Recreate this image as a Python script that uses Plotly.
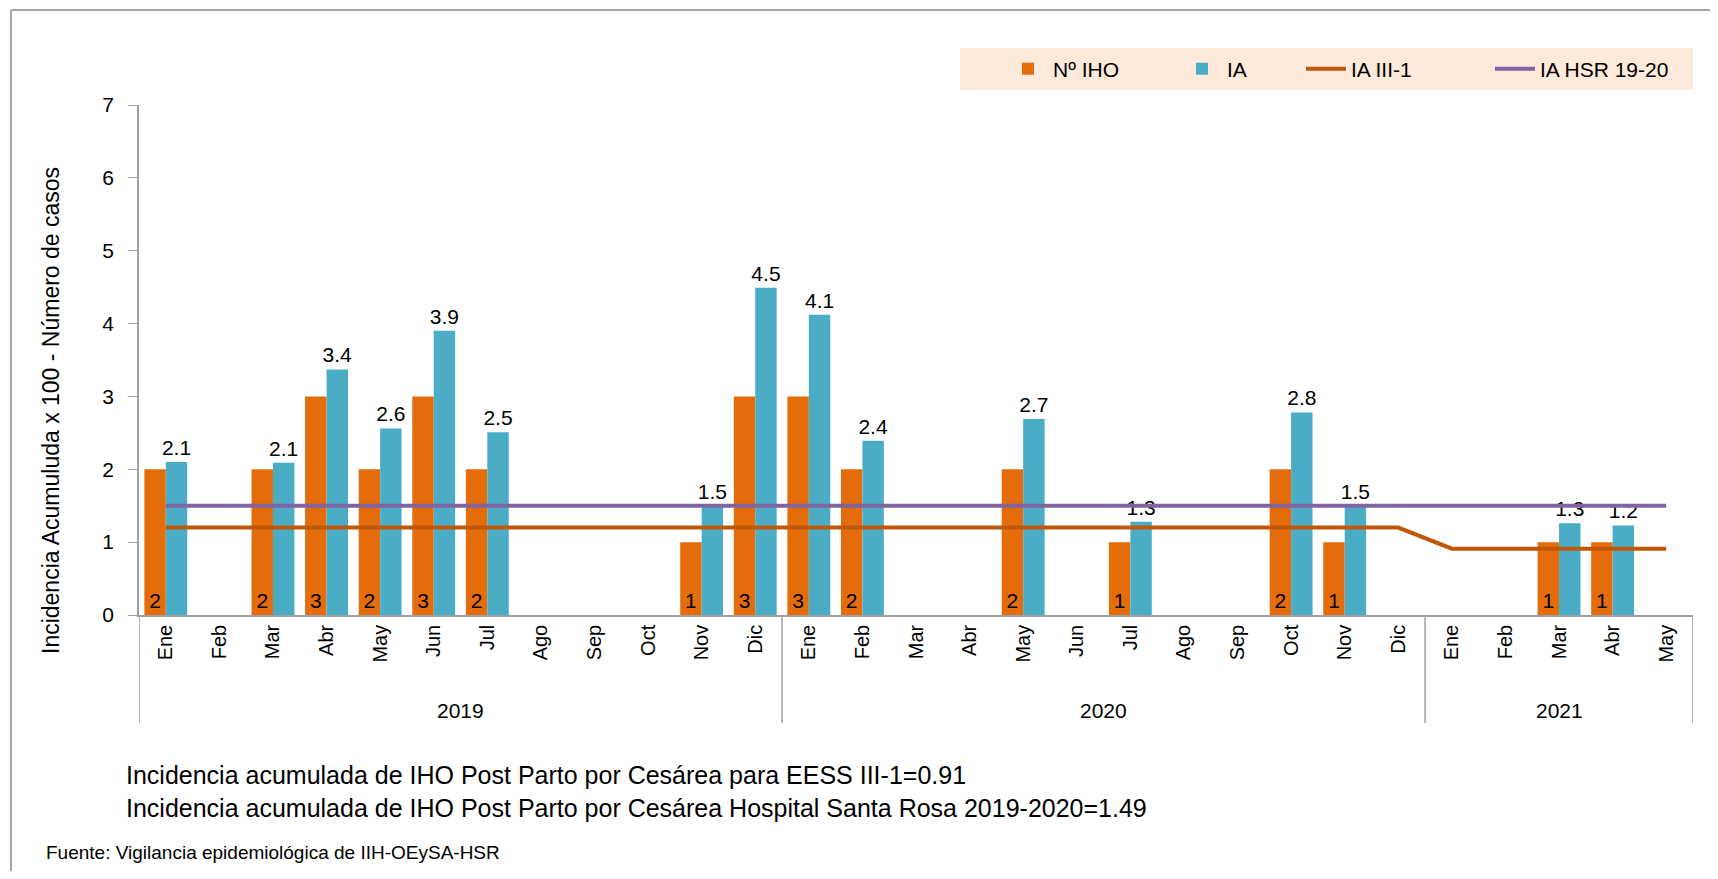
import plotly.graph_objects as go

months = ["Ene", "Feb", "Mar", "Abr", "May", "Jun", "Jul", "Ago", "Sep", "Oct", "Nov", "Dic",
          "Ene", "Feb", "Mar", "Abr", "May", "Jun", "Jul", "Ago", "Sep", "Oct", "Nov", "Dic",
          "Ene", "Feb", "Mar", "Abr", "May"]
years = ["2019", "2020", "2021"]
year_counts = [12, 12, 5]

n_iho = [2, None, 2, 3, 2, 3, 2, None, None, None, 1, 3,
         3, 2, None, None, 2, None, 1, None, None, 2, 1, None,
         None, None, 1, 1, None]
ia = [2.10, None, 2.09, 3.37, 2.56, 3.90, 2.51, None, None, None, 1.50, 4.49,
      4.12, 2.39, None, None, 2.69, None, 1.28, None, None, 2.78, 1.50, None,
      None, None, 1.26, 1.23, None]
ia_iii1 = [1.2] * 24 + [0.91] * 5
ia_hsr = [1.5] * 29

y_title = "Incidencia Acumuluda x 100 - Número de casos"
note1 = "Incidencia acumulada de IHO Post Parto por Cesárea para EESS III-1=0.91"
note2 = "Incidencia acumulada de IHO Post Parto por Cesárea Hospital Santa Rosa 2019-2020=1.49"
source = "Fuente: Vigilancia epidemiológica de IIH-OEySA-HSR"

FONT = "Liberation Sans, Arial, sans-serif"
OFF = 8  # browser body margin
W, H = 1718 - 2 * OFF, 879 - 2 * OFF
# plot area in screenshot (reference) pixels
PL, PR, PT, PB = 139, 1693, 105, 615
L, T = PL - OFF, PT - OFF
R = W - (PR - OFF)
B = H - (PB - OFF)
PW, PH = PR - PL, PB - PT

def px_x(px):
    return (px - PL) / PW

def px_y(py):
    return (PB - py) / PH

x = list(range(len(months)))

fig = go.Figure()
fig.add_trace(go.Bar(
    x=x, y=n_iho, name="Nº IHO", marker_color="#E46C0A",
    marker_line_width=0, legend="legend",
    text=[("" if v is None else str(v)) for v in n_iho],
    textposition="inside", insidetextanchor="start", textangle=0,
    constraintext="none",
    insidetextfont=dict(size=21, color="black", family=FONT),
))
fig.add_trace(go.Bar(
    x=x, y=ia, name="IA", marker_color="#4BACC6",
    marker_line_width=0, legend="legend2",
    texttemplate="%{y:.1f}", textposition="outside", textangle=0,
    constraintext="none",
    outsidetextfont=dict(size=21, color="black", family=FONT),
    cliponaxis=False,
))
fig.add_trace(go.Scatter(
    x=x, y=ia_iii1, name="IA III-1", mode="lines", legend="legend3",
    line=dict(color="#C0580A", width=4),
))
fig.add_trace(go.Scatter(
    x=x, y=ia_hsr, name="IA HSR 19-20", mode="lines", legend="legend4",
    line=dict(color="#8064A2", width=4),
))

shapes = []
# legend background
shapes.append(dict(type="rect", xref="paper", yref="paper",
                   x0=px_x(960), x1=px_x(1693), y0=px_y(90), y1=px_y(48),
                   fillcolor="#FDEADA", line_width=0, layer="below"))
# outer border (top and left)
shapes.append(dict(type="line", xref="paper", yref="paper",
                   x0=px_x(11), x1=px_x(1718), y0=px_y(10), y1=px_y(10),
                   line=dict(color="#A6A6A6", width=2)))
shapes.append(dict(type="line", xref="paper", yref="paper",
                   x0=px_x(11), x1=px_x(11), y0=px_y(10), y1=px_y(879),
                   line=dict(color="#A6A6A6", width=2)))
# year separators
bounds = [-0.5]
acc = -0.5
for c in year_counts:
    acc += c
    bounds.append(acc)
for bx in bounds:
    shapes.append(dict(type="line", xref="x", yref="paper",
                       x0=bx, x1=bx, y0=0, y1=px_y(723),
                       line=dict(color="#A0A0A0", width=1.5)))

annotations = []
start = -0.5
for yr, c in zip(years, year_counts):
    annotations.append(dict(x=start + c / 2, y=px_y(710), xref="x", yref="paper",
                            text=yr, showarrow=False, yanchor="middle",
                            font=dict(size=21, color="black", family=FONT)))
    start += c
# y-axis title (placed like the original, slightly below plot centre)
annotations.append(dict(x=px_x(51), y=px_y(411), xref="paper", yref="paper",
                        text=y_title, showarrow=False, textangle=-90,
                        xanchor="center", yanchor="middle",
                        font=dict(size=23, color="black", family=FONT)))
annotations.append(dict(x=px_x(124), y=px_y(775), xref="paper", yref="paper",
                        text=note1, showarrow=False, xanchor="left", yanchor="middle",
                        font=dict(size=25, color="black", family=FONT)))
annotations.append(dict(x=px_x(124), y=px_y(808), xref="paper", yref="paper",
                        text=note2, showarrow=False, xanchor="left", yanchor="middle",
                        font=dict(size=25, color="black", family=FONT)))
annotations.append(dict(x=px_x(44), y=px_y(852), xref="paper", yref="paper",
                        text=source, showarrow=False, xanchor="left", yanchor="middle",
                        font=dict(size=19, color="black", family=FONT)))

def leg(px_left):
    return dict(orientation="h", x=px_x(px_left), xanchor="left",
                y=px_y(69), yanchor="middle", bgcolor="rgba(0,0,0,0)",
                font=dict(size=21, family=FONT, color="black"), itemwidth=40)

fig.update_layout(
    width=W, height=H,
    margin=dict(l=L, r=R, t=T, b=B, autoexpand=False),
    paper_bgcolor="white", plot_bgcolor="white",
    font=dict(family=FONT, size=20, color="black"),
    barmode="group", bargap=0.2, bargroupgap=0,
    showlegend=True,
    legend=leg(1003), legend2=leg(1177), legend3=leg(1301), legend4=leg(1490),
    shapes=shapes, annotations=annotations,
    xaxis=dict(range=[-0.5, 28.5], tickmode="array", tickvals=x, ticktext=months,
               tickangle=-90, showline=True, linecolor="#A0A0A0", linewidth=1.5,
               ticks="", showgrid=False, zeroline=False,
               tickfont=dict(size=20, family=FONT)),
    yaxis=dict(range=[0, 7], dtick=1, showline=True, linecolor="#A0A0A0", linewidth=1.5,
               ticks="outside", ticklen=9, tickcolor="#A0A0A0", showgrid=False,
               zeroline=False, tickfont=dict(size=21, family=FONT),
               ticklabelstandoff=10),
)

fig.write_html("out.html")
